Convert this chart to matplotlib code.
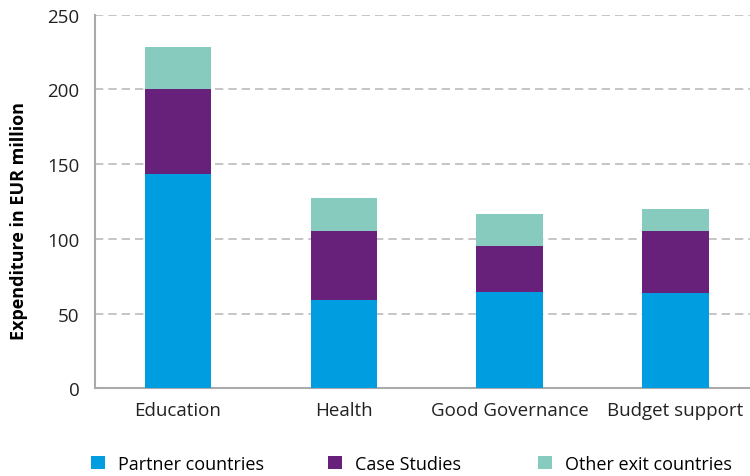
import matplotlib.pyplot as plt

categories = ["Education", "Health", "Good Governance", "Budget support"]
partner = [143, 59, 64.5, 64]
case_studies = [57, 46, 31, 41]
other_exit = [28, 22, 21, 15]

plt.rcParams['font.family'] = ['Open Sans', 'DejaVu Sans']

fig = plt.figure(figsize=(7.5, 4.77), dpi=100)
ax = fig.add_axes([95 / 750, 0.1838, 655 / 750, 0.7837])

x = range(len(categories))
b1 = ax.bar(x, partner, width=0.4, color="#009EE0", label="Partner countries", zorder=3)
bottom2 = partner
b2 = ax.bar(x, case_studies, width=0.4, bottom=bottom2, color="#68217A", label="Case Studies", zorder=3)
bottom3 = [p + c for p, c in zip(partner, case_studies)]
b3 = ax.bar(x, other_exit, width=0.4, bottom=bottom3, color="#87CABE", label="Other exit countries", zorder=3)

ax.set_xlim(-0.5, 3.45)
ax.set_ylim(0, 250)
ax.set_yticks([0, 50, 100, 150, 200, 250])
ax.set_xticks(list(x))
ax.set_xticklabels(categories)
ax.tick_params(length=0, labelsize=13.5, colors="#222222", pad=9)
ax.tick_params(axis="y", pad=11)

ax.yaxis.grid(True, linestyle=(0, (5, 3)), color="#BBBBBB", linewidth=1.2, zorder=0)
for s in ["top", "right"]:
    ax.spines[s].set_visible(False)
for s in ["left", "bottom"]:
    ax.spines[s].set_color("#AAAAAA")
    ax.spines[s].set_linewidth(1.5)

ax.set_ylabel("Expenditure in EUR million", fontsize=13, fontweight="bold")
ax.yaxis.set_label_coords(-0.102, 0.45)

# legend entries placed one by one
starts = [91, 328, 538]
for h, xs in zip([b1, b2, b3], starts):
    fig.legend(handles=[h], loc="center left", bbox_to_anchor=(xs / 750, 1 - 465 / 477),
               frameon=False, fontsize=13, handlelength=0.75, handleheight=0.75,
               handletextpad=0.75, borderpad=0, borderaxespad=0)

plt.savefig("out.png")
plt.close()
